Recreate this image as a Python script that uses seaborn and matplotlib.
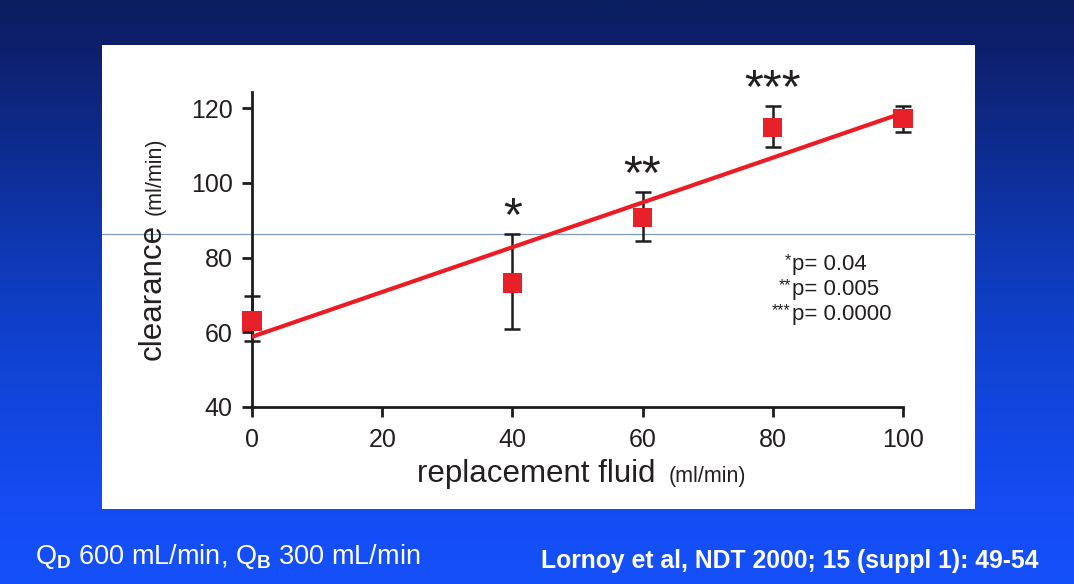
import numpy as np
import matplotlib
matplotlib.use("Agg")
import matplotlib.pyplot as plt
from matplotlib.colors import LinearSegmentedColormap
from matplotlib.patches import Rectangle
from matplotlib.lines import Line2D
from matplotlib import font_manager
import seaborn as sns

# ---------------- data ----------------
replacement_fluid = [0, 40, 60, 80, 100]
clearance = [63.0, 73.2, 90.8, 114.9, 117.1]
err_lower = [5.3, 12.3, 6.4, 5.3, 3.5]
err_upper = [6.7, 13.1, 6.7, 5.6, 3.4]
fit_x = [0, 100]
fit_y = [58.8, 118.7]
sig_x = [40, 60, 80]
sig_labels = ["*", "**", "***"]
p_stars = ["*", "**", "***"]
p_values = ["p= 0.04", "p= 0.005", "p= 0.0000"]
x_ticks = [0, 20, 40, 60, 80, 100]
y_ticks = [40, 60, 80, 100, 120]
left_note = "Q$_\\mathbf{D}$ 600 mL/min, Q$_\\mathbf{B}$ 300 mL/min"
right_note = "Lornoy et al, NDT 2000; 15 (suppl 1): 49-54"

# ---------------- style ----------------
sns.set_theme(style="ticks")
names = {f.name for f in font_manager.fontManager.ttflist}
base = "Liberation Sans" if "Liberation Sans" in names else "DejaVu Sans"
narrow = "Liberation Sans Narrow" if "Liberation Sans Narrow" in names else base
plt.rcParams["font.family"] = [base, "DejaVu Sans"]
plt.rcParams["mathtext.fontset"] = "custom"
plt.rcParams["mathtext.rm"] = base
plt.rcParams["mathtext.it"] = base + ":italic"
plt.rcParams["mathtext.bf"] = base + ":bold"

W, H = 1074, 584
fig = plt.figure(figsize=(W / 100, H / 100), dpi=100)


def fx(px):
    return px / W


def fy(py):
    return 1 - py / H


# slide background gradient
bg = fig.add_axes([0, 0, 1, 1], zorder=-10)
cmap = LinearSegmentedColormap.from_list(
    "slide",
    [(0, "#0a1e60"), (0.07, "#0d1f6a"), (0.5, "#0f3dc2"), (0.85, "#144cf2"), (1, "#1550fa")],
)
grad = np.linspace(0, 1, 256).reshape(-1, 1)
bg.imshow(grad, aspect="auto", cmap=cmap, extent=[0, 1, 0, 1], origin="upper")
bg.set_xlim(0, 1)
bg.set_ylim(0, 1)
bg.set_axis_off()

# white panel
fig.add_artist(Rectangle((fx(102), fy(509)), fx(975) - fx(102), fy(45) - fy(509),
                         transform=fig.transFigure, facecolor="white", edgecolor="none", zorder=-5))
# thin stray line across the panel
fig.add_artist(Line2D([fx(102), fx(975)], [fy(233.5)] * 2, transform=fig.transFigure,
                      color="#7f9bbb", lw=0.9, zorder=-4))

# ---------------- main axes ----------------
ax = fig.add_axes([fx(252), fy(407), fx(903) - fx(252), fy(92) - fy(407)])
ax.set_facecolor("none")
ink = "#1e1c1d"

eb = ax.errorbar(replacement_fluid, clearance, yerr=[err_lower, err_upper], fmt="none",
                 ecolor=ink, elinewidth=1.8, capsize=5.8, capthick=1.8, zorder=3)
for art in eb.get_children():
    art.set_clip_on(False)

sns.lineplot(x=fit_x, y=fit_y, ax=ax, color="#ec1c24", lw=3, zorder=4)
sns.scatterplot(x=replacement_fluid, y=clearance, marker="s", s=190, color="#e8202a",
                edgecolor="none", linewidth=0, zorder=5, ax=ax, clip_on=False)

ax.set_xlim(0, 100)
ax.set_ylim(40, 124.3)
ax.set_xticks(x_ticks)
ax.set_yticks(y_ticks)
sns.despine(ax=ax)
for s in ("left", "bottom"):
    ax.spines[s].set_linewidth(2)
    ax.spines[s].set_color(ink)
ax.tick_params(axis="both", direction="out", length=7, width=2, color=ink,
               labelsize=18, labelcolor="#231f20")
ax.tick_params(axis="y", pad=7)
ax.tick_params(axis="x", pad=8)
ax.set_xlabel("")
ax.set_ylabel("")

# significance stars
for xv, lab in zip(sig_x, sig_labels):
    i = replacement_fluid.index(xv)
    ax.annotate(lab, (xv, clearance[i] + err_upper[i]), xytext=(0, 3), textcoords="offset points",
                ha="center", va="baseline", fontsize=35, color="#231f20", annotation_clip=False)

# p-value legend
for i, (st, pv) in enumerate(zip(p_stars, p_values)):
    yb = 270 + 25 * i
    fig.text(fx(792), fy(yb), pv, ha="left", va="baseline", fontsize=16, color="#231f20")
    fig.text(fx(791), fy(yb - 5), st, ha="right", va="baseline", fontsize=11.5, color="#231f20")

# axis labels
fig.text(fx(161), fy(292), "clearance", rotation=90, rotation_mode="anchor",
         ha="center", va="baseline", fontsize=22.5, color="#231f20")
fig.text(fx(161), fy(176), "(ml/min)", rotation=90, rotation_mode="anchor",
         ha="center", va="baseline", fontsize=15.5, color="#231f20")
fig.text(fx(536), fy(482), "replacement fluid", ha="center", va="baseline",
         fontsize=22.5, color="#231f20")
fig.text(fx(707), fy(482), "(ml/min)", ha="center", va="baseline",
         fontsize=15.5, color="#231f20")

# bottom notes, fitted to their widths on the slide
t1 = fig.text(fx(35), fy(564), left_note, ha="left", va="baseline", fontsize=19,
              color="white", family=[narrow, "DejaVu Sans"])
t2 = fig.text(fx(541), fy(568), right_note, ha="left", va="baseline", fontsize=17,
              color="white", fontweight="bold", family=[narrow, "DejaVu Sans"])
fig.canvas.draw()
r = fig.canvas.get_renderer()
for t, target in ((t1, 385), (t2, 500)):
    w = t.get_window_extent(r).width
    t.set_fontsize(t.get_fontsize() * target / w)

fig.savefig("out.png", dpi=100)
